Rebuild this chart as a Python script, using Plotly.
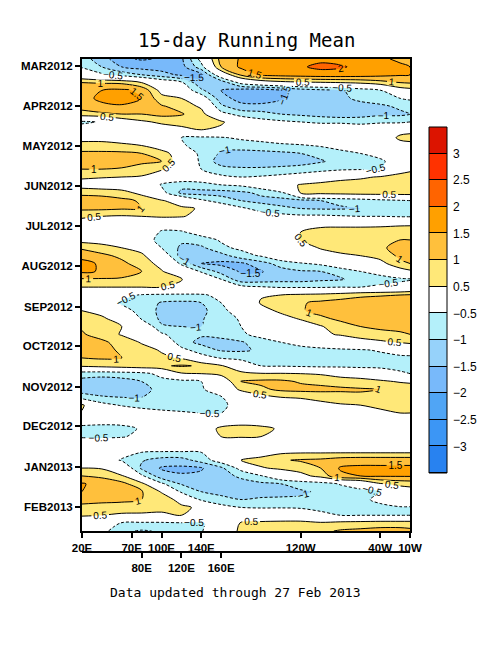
import plotly.graph_objects as go
import pandas as pd

# ---------------- data ----------------
lons = [20, 40, 60, 80, 100, 120, 140, 160, 180, 200, 220, 240, 260, 280, 300, 320, 340, 350]
dates = pd.date_range("2012-02-25", periods=61, freq="6D")

anom = [
    [-0.8, -1.25, -1.9, -2.05, -1.95, -1.6, -0.3, 1.2, 1.55, 1.65, 1.7, 1.8, 1.9, 1.85, 1.75, 1.6, 1.4, 1.3],
    [-0.55, -1.0, -1.5, -1.7, -1.75, -1.7, -0.7, 1.0, 1.6, 1.75, 1.8, 1.95, 2.1, 2.05, 1.9, 1.8, 1.6, 1.5],
    [-0.05, -0.4, -0.7, -1.0, -1.3, -1.6, -1.6, 0.0, 1.1, 1.6, 1.7, 1.75, 1.8, 1.8, 1.75, 1.65, 1.55, 1.5],
    [1.0, 0.95, 0.9, 0.5, 0.0, -0.4, -1.4, -1.35, -0.3, 0.1, 0.3, 0.4, 0.45, 0.5, 0.6, 0.8, 1.0, 1.05],
    [1.3, 1.5, 1.6, 1.4, 0.3, 0.0, -0.9, -1.5, -1.75, -1.8, -1.6, -1.3, -1.15, -1.05, -0.8, -0.55, 0.2, 0.3],
    [1.35, 1.6, 1.7, 1.5, 0.7, 0.5, -0.1, -1.3, -1.7, -1.7, -1.55, -1.3, -1.2, -1.1, -0.9, -0.7, -0.5, -0.4],
    [1.2, 1.4, 1.45, 1.3, 1.05, 0.8, 0.4, -0.9, -1.35, -1.4, -1.35, -1.3, -1.3, -1.25, -1.15, -1.1, -0.9, -0.85],
    [0.8, 0.9, 1.0, 1.0, 1.15, 1.05, 0.7, -0.3, -0.7, -0.8, -1.0, -1.1, -1.2, -1.3, -1.2, -1.1, -1.1, -1.0],
    [-0.6, -0.45, 0.1, 0.4, 0.6, 0.7, 0.8, 0.6, 0.0, -0.3, -0.4, -0.5, -0.6, -0.6, -0.7, -0.6, -0.6, -0.5],
    [-0.2, 0.0, 0.0, 0.1, 0.2, 0.35, 0.5, 0.35, 0.0, 0.0, 0.0, 0.0, 0.0, 0.0, 0.0, 0.1, 0.3, 0.3],
    [0.3, 0.3, 0.25, 0.1, 0.0, -0.5, -0.6, -0.55, -0.4, -0.3, -0.2, -0.1, 0.0, 0.0, 0.0, 0.1, 0.6, 0.7],
    [0.7, 0.7, 0.6, 0.5, 0.2, -0.4, -0.8, -0.9, -0.8, -0.7, -0.6, -0.55, -0.45, -0.3, -0.2, 0.0, 0.3, 0.3],
    [1.1, 1.1, 1.1, 1.0, 0.7, 0.2, -0.7, -1.05, -1.15, -1.15, -1.1, -1.0, -0.85, -0.65, -0.5, -0.3, 0.0, 0.0],
    [1.3, 1.3, 1.25, 1.1, 1.0, 0.1, -0.6, -1.25, -1.35, -1.35, -1.3, -1.2, -1.05, -0.85, -0.7, -0.6, -0.2, -0.1],
    [1.0, 1.0, 0.95, 0.8, 0.55, 0.2, -0.5, -0.8, -0.9, -0.9, -0.85, -0.8, -0.7, -0.6, -0.55, -0.5, 0.3, 0.4],
    [0.6, 0.55, 0.5, 0.45, 0.2, 0.0, -0.2, -0.4, -0.5, -0.45, -0.35, -0.2, 0.0, 0.3, 0.4, 0.55, 0.65, 0.7],
    [0.2, 0.1, 0.0, -0.2, -0.55, -0.85, -0.65, -0.5, -0.4, -0.1, 0.2, 0.55, 0.7, 0.75, 0.8, 0.8, 0.85, 0.85],
    [0.9, 0.85, 0.75, 0.3, -0.3, -1.1, -1.2, -1.2, -1.1, -0.9, -0.6, 0.55, 0.7, 0.75, 0.8, 0.8, 0.8, 0.8],
    [1.2, 1.2, 1.1, 0.95, 0.55, 0.2, -0.4, -0.75, -1.0, -1.15, -1.2, -1.15, -1.0, -0.9, -0.8, -0.65, -0.55, -0.5],
    [1.1, 1.1, 1.05, 1.0, 0.8, 0.6, 0.45, 0.0, -0.4, -0.7, -0.9, -1.0, -1.05, -1.05, -1.0, -0.8, -0.7, -0.7],
    [0.6, 0.5, 0.45, 0.5, 0.6, 0.55, 0.3, 0.0, -0.1, -0.2, -0.3, -0.4, -0.4, -0.45, -0.5, -0.5, -0.55, -0.55],
    [0.2, 0.1, 0.0, 0.0, -0.3, -0.2, 0.0, 0.0, 0.0, 0.0, 0.1, 0.3, 0.35, 0.35, 0.35, 0.35, 0.4, 0.4],
    [0.0, 0.0, 0.0, -0.1, -0.55, -0.55, -0.3, -0.1, 0.0, 0.0, 0.0, 0.5, 0.7, 0.75, 0.75, 0.8, 0.85, 0.9],
    [0.3, 0.2, 0.1, 0.0, -0.8, -0.9, -0.7, -0.45, -0.2, 0.0, 0.1, 0.55, 0.75, 0.85, 0.9, 0.95, 1.0, 1.0],
    [0.9, 0.75, 0.5, 0.3, -0.5, -1.1, -1.1, -0.6, -0.4, -0.2, 0.0, 0.2, 0.55, 0.7, 0.8, 0.95, 1.1, 1.15],
    [1.4, 1.1, 0.9, 0.6, 0.0, -1.2, -1.4, -1.2, -0.7, -0.45, 0.0, 0.1, 0.2, 0.4, 0.5, 0.7, 1.1, 1.2],
    [1.6, 1.45, 1.1, 0.8, 0.3, -0.6, -1.5, -1.6, -1.6, -1.2, -0.8, -0.55, -0.4, 0.0, 0.1, 0.3, 0.9, 1.0],
    [1.6, 1.45, 1.2, 1.0, 0.55, 0.0, -0.55, -1.2, -1.55, -1.55, -1.2, -1.05, -1.0, -0.85, -0.5, -0.3, 0.2, 0.4],
    [0.95, 0.95, 0.95, 1.0, 0.9, 0.55, -0.1, -0.5, -1.35, -1.3, -1.2, -1.2, -1.1, -1.05, -0.8, -0.7, -0.6, -0.55],
    [0.5, 0.5, 0.5, 0.5, 0.5, 0.3, 0.0, -0.3, -0.3, -0.45, -0.55, -0.55, -0.55, -0.5, -0.5, -0.4, -0.3, -0.2],
    [0.1, 0.0, -0.3, -0.55, -0.6, -0.6, -0.55, -0.4, 0.0, 0.45, 0.5, 0.6, 0.65, 0.75, 0.9, 0.95, 1.0, 1.05],
    [0.1, -0.1, -0.6, -0.7, -1.05, -1.1, -1.0, -0.5, -0.1, 0.55, 0.7, 0.95, 1.1, 1.2, 1.25, 1.3, 1.3, 1.3],
    [0.5, 0.3, -0.2, -0.75, -1.1, -1.25, -1.15, -0.65, -0.2, 0.3, 0.6, 0.95, 1.15, 1.25, 1.3, 1.3, 1.3, 1.35],
    [0.8, 0.6, 0.2, -0.55, -1.1, -1.15, -1.05, -0.7, -0.45, 0.0, 0.3, 0.55, 0.9, 1.1, 1.2, 1.25, 1.25, 1.3],
    [0.95, 0.85, 0.5, 0.1, -0.95, -1.0, -1.0, -0.75, -0.5, -0.2, 0.0, 0.2, 0.45, 0.8, 1.0, 1.1, 1.1, 1.15],
    [1.05, 0.8, 0.45, 0.1, -0.4, -0.85, -0.95, -0.85, -0.6, -0.3, -0.1, 0.1, 0.4, 0.55, 0.7, 0.85, 0.95, 1.0],
    [1.2, 1.1, 0.8, 0.45, 0.2, -0.85, -1.1, -1.15, -1.05, -0.75, -0.5, -0.3, -0.1, 0.1, 0.3, 0.4, 0.55, 0.65],
    [1.15, 1.1, 0.95, 0.7, 0.45, -0.3, -0.8, -1.05, -1.05, -0.95, -0.75, -0.7, -0.65, -0.6, -0.55, -0.45, -0.3, -0.25],
    [1.0, 1.05, 1.0, 0.9, 0.6, 0.45, -0.2, -0.55, -0.75, -0.8, -0.8, -0.75, -0.75, -0.7, -0.7, -0.65, -0.6, -0.6],
    [0.6, 0.7, 0.8, 0.9, 0.95, 1.05, 0.95, 0.55, 0.2, -0.5, -0.55, -0.6, -0.65, -0.65, -0.7, -0.7, -0.7, -0.7],
    [-0.8, -0.85, -0.8, -0.7, -0.3, 0.45, 0.5, 0.65, 0.6, 0.55, 0.55, 0.5, 0.45, 0.3, 0.2, 0.0, -0.4, -0.5],
    [-1.15, -1.2, -1.15, -1.0, -0.7, -0.7, -0.5, 0.0, 1.05, 1.1, 1.1, 0.95, 0.85, 0.75, 0.7, 0.6, 0.45, 0.4],
    [-1.25, -1.25, -1.2, -1.05, -0.95, -0.75, -0.6, 0.0, 0.6, 0.9, 1.1, 1.15, 1.15, 1.1, 1.05, 1.0, 0.9, 0.85],
    [-0.75, -0.95, -1.0, -1.0, -0.9, -0.8, -0.7, -0.55, 0.0, 0.3, 0.5, 0.55, 0.65, 0.75, 0.9, 1.0, 0.85, 0.8],
    [0.6, -0.3, -0.55, -0.7, -0.75, -0.7, -0.65, -0.55, -0.4, 0.0, 0.1, 0.2, 0.35, 0.45, 0.5, 0.6, 0.65, 0.7],
    [0.45, 0.0, 0.0, -0.2, -0.35, -0.45, -0.5, -0.5, -0.3, 0.0, 0.0, 0.05, 0.1, 0.2, 0.3, 0.4, 0.5, 0.5],
    [-0.2, -0.3, -0.3, -0.2, 0.0, 0.0, 0.1, 0.2, 0.2, 0.1, 0.0, 0.0, 0.0, 0.0, 0.0, 0.05, 0.1, 0.1],
    [-0.7, -0.7, -0.65, -0.45, -0.1, 0.0, 0.2, 0.6, 0.75, 0.7, 0.4, 0.1, 0.0, 0.0, 0.0, 0.0, 0.0, 0.0],
    [-0.6, -0.6, -0.55, -0.35, 0.0, 0.0, 0.2, 0.5, 0.55, 0.5, 0.3, 0.1, 0.0, 0.0, 0.0, 0.0, 0.0, 0.0],
    [0.1, 0.0, 0.0, 0.0, 0.0, 0.0, 0.0, 0.0, 0.0, 0.0, 0.0, 0.0, 0.0, 0.0, 0.1, 0.1, 0.2, 0.2],
    [0.1, 0.0, -0.3, -0.5, -0.55, -0.55, -0.5, -0.3, 0.0, 0.2, 0.4, 0.45, 0.45, 0.45, 0.45, 0.45, 0.45, 0.45],
    [0.1, -0.2, -0.55, -0.95, -1.2, -1.2, -0.8, -0.2, 0.5, 0.7, 0.95, 1.05, 1.1, 1.25, 1.3, 1.3, 1.3, 1.3],
    [0.5, 0.45, 0.1, -1.1, -1.55, -1.6, -1.55, -1.1, -0.3, 0.45, 0.6, 0.75, 1.0, 1.55, 1.6, 1.6, 1.6, 1.6],
    [1.0, 0.9, 0.55, -0.4, -1.3, -1.45, -1.4, -1.2, -0.9, -0.55, 0.0, 0.3, 0.7, 1.4, 1.5, 1.55, 1.55, 1.55],
    [1.55, 1.3, 1.15, 0.65, -0.4, -1.05, -1.15, -1.2, -1.2, -1.1, -1.0, -0.85, -0.75, -0.45, -0.2, 0.45, 0.65, 0.7],
    [1.5, 1.3, 1.2, 1.05, 0.45, -0.6, -1.0, -1.15, -1.2, -1.15, -1.1, -1.05, -0.95, -0.8, -0.65, -0.5, 0.1, 0.2],
    [1.2, 1.15, 1.1, 1.0, 0.8, 0.3, -0.6, -0.85, -1.0, -0.95, -0.95, -0.95, -0.9, -0.75, -0.6, -0.4, 0.0, 0.0],
    [0.85, 0.8, 0.8, 0.75, 0.65, 0.6, 0.4, -0.3, -0.5, -0.55, -0.55, -0.6, -0.6, -0.6, -0.6, -0.6, -0.55, -0.55],
    [0.55, 0.5, 0.4, 0.4, 0.4, 0.5, 0.45, 0.1, 0.1, 0.1, 0.2, 0.2, -0.4, -0.5, -0.5, -0.5, -0.5, -0.5],
    [0.1, -0.1, -0.55, -0.6, -0.6, -0.55, -0.6, 0.0, 0.55, 0.6, 0.6, 0.6, 0.6, 0.7, 0.75, 0.8, 0.8, 0.8],
    [0.0, -0.3, -0.9, -1.05, -0.95, -0.7, -0.55, 0.1, 0.6, 0.7, 0.75, 0.8, 0.9, 1.05, 1.1, 1.15, 1.15, 1.1],
]

level_labels = ["\u22123", "\u22122.5", "\u22122", "\u22121.5", "\u22121", "\u22120.5",
                "0.5", "1", "1.5", "2", "2.5", "3"]
box_colors = ["#2882F0", "#3C96F5", "#50A5F5", "#78B9FA", "#96D2FA", "#B4F0FA", "#FFFFFF",
              "#FFE878", "#FFC03C", "#FFA000", "#FF6400", "#FF3200", "#DC1400"]

month_ticks = ["2012-03-01", "2012-04-01", "2012-05-01", "2012-06-01", "2012-07-01", "2012-08-01",
               "2012-09-01", "2012-10-01", "2012-11-01", "2012-12-01", "2013-01-01", "2013-02-01"]
month_text = ["MAR2012", "APR2012", "MAY2012", "JUN2012", "JUL2012", "AUG2012",
              "SEP2012", "OCT2012", "NOV2012", "DEC2012", "JAN2013", "FEB2013"]
lon_ticks = [20, 70, 100, 140, 240, 320, 350]
lon_text = ["20E", "70E", "100E", "140E", "120W", "40W", "10W"]
lon2_ticks = [80, 120, 160]
lon2_text = ["80E", "120E", "160E"]

# ---------------- layout helpers (page pixels; page body has an 8px margin) ----------------
OFF = 8
W, H = 500 - OFF, 650 - OFF
PLOT_L, PLOT_R, PLOT_T, PLOT_B = 82, 480, 59, 552          # page coordinates of the plotting area
ML, MT = PLOT_L - OFF, PLOT_T - OFF
MR, MB = W + OFF - PLOT_R, H + OFF - PLOT_B
PW, PH = PLOT_R - PLOT_L, PLOT_B - PLOT_T
def px(x):
    return (x - PLOT_L) / PW
def py(y):
    return (PLOT_B - y) / PH

# fill colours: 14 bands for contour levels -3..3 step .5 (white split in two)
band_cols = box_colors[:6] + ["#FFFFFF", "#FFFFFF"] + box_colors[7:]
nb = len(band_cols)
edges = [0.0] + [(k + 0.5) / (nb - 1) for k in range(nb - 1)] + [1.0]
fill_scale = []
for k, c in enumerate(band_cols):
    fill_scale += [[edges[k], c], [edges[k + 1], c]]

nbox = len(box_colors)
box_scale = []
for k, c in enumerate(box_colors):
    box_scale += [[k / nbox, c], [(k + 1) / nbox, c]]

black = [[0, "black"], [1, "black"]]
lab_font = dict(family="Liberation Sans", size=10, color="black")

fig = go.Figure()
fig.add_trace(go.Contour(
    x=lons, y=dates, z=anom, colorscale=fill_scale, showscale=False, autocontour=False,
    contours=dict(start=-3, end=3, size=0.5, coloring="fill", showlines=False),
    line=dict(width=0, smoothing=0.9), hoverinfo="skip"))
fig.add_trace(go.Contour(
    x=lons, y=dates, z=anom, colorscale=black, showscale=False, autocontour=False,
    contours=dict(start=-3, end=-0.5, size=0.5, coloring="lines", showlabels=True,
                  labelfont=lab_font, labelformat=".1~f"),
    line=dict(width=1, dash="3px,2px", smoothing=0.9), hoverinfo="skip"))
fig.add_trace(go.Contour(
    x=lons, y=dates, z=anom, colorscale=black, showscale=False, autocontour=False,
    contours=dict(start=0.5, end=3, size=0.5, coloring="lines", showlabels=True,
                  labelfont=lab_font, labelformat=".1~f"),
    line=dict(width=1, smoothing=0.9), hoverinfo="skip"))
# secondary longitude axis carrier
fig.add_trace(go.Scatter(x=[None], y=[None], xaxis="x2", yaxis="y", showlegend=False, hoverinfo="skip"))
# colour bar as a heatmap of the level boxes
fig.add_trace(go.Heatmap(
    z=[[k] for k in range(nbox)], x=[0], y=list(range(nbox)), zmin=-0.5, zmax=nbox - 0.5,
    colorscale=box_scale, showscale=False, ygap=1, xaxis="x3", yaxis="y3", hoverinfo="skip"))

tick_font = dict(family="Liberation Sans", size=11.5, color="black", weight="bold")
fig.update_layout(
    width=W, height=H, margin=dict(l=ML, r=MR, t=MT, b=MB, autoexpand=False),
    paper_bgcolor="white", plot_bgcolor="white", showlegend=False,
    xaxis=dict(domain=[0, px(410)], range=[20, 350], tickvals=lon_ticks, ticktext=lon_text,
               ticks="outside", ticklen=5, tickwidth=2, tickcolor="black",
               showline=True, linewidth=2, linecolor="black", mirror=True,
               showgrid=False, zeroline=False, tickfont=tick_font, anchor="y"),
    yaxis=dict(domain=[py(531), 1], type="date", range=[dates[-1], dates[0]],
               tickvals=month_ticks, ticktext=month_text, ticks="outside", ticklen=5,
               tickwidth=2, tickcolor="black", showline=True, linewidth=2, linecolor="black",
               mirror=True, showgrid=False, zeroline=False, tickfont=tick_font, anchor="x"),
    xaxis2=dict(overlaying="x", anchor="free", position=0, side="bottom", range=[20, 350],
                tickvals=lon2_ticks, ticktext=lon2_text, ticks="outside", ticklen=5, tickwidth=2,
                tickcolor="black", showline=True, linewidth=2, linecolor="black",
                showgrid=False, zeroline=False, tickfont=tick_font),
    xaxis3=dict(domain=[px(429), px(447)], range=[-0.5, 0.5], anchor="y3", visible=False),
    yaxis3=dict(domain=[py(473), py(127)], range=[-0.5, nbox - 0.5], anchor="x3", side="right",
                tickvals=[k + 0.5 for k in range(nbox - 1)], ticktext=level_labels,
                ticks="", showgrid=False, zeroline=False, showline=False, ticklabelstandoff=5,
                tickfont=dict(family="Liberation Sans", size=12, color="black")),
    shapes=[
        dict(type="rect", xref="x3 domain", yref="y3 domain", x0=0, x1=1, y0=0, y1=1,
             fillcolor="black", line=dict(width=0), layer="below"),
        dict(type="rect", xref="x3 domain", yref="y3 domain", x0=0, x1=1, y0=0, y1=1,
             fillcolor="rgba(0,0,0,0)", line=dict(width=1, color="black"), layer="above"),
    ],
    annotations=[
        dict(text="15-day Running Mean", x=px(246), y=py(40), xref="paper", yref="paper",
             showarrow=False, xanchor="center", yanchor="middle",
             font=dict(family="DejaVu Sans Mono", size=19, color="black")),
        dict(text="Data updated through 27 Feb 2013", x=px(235), y=py(592), xref="paper",
             yref="paper", showarrow=False, xanchor="center", yanchor="middle",
             font=dict(family="DejaVu Sans Mono", size=13, color="black")),
    ],
)
fig.write_html("out.html")
